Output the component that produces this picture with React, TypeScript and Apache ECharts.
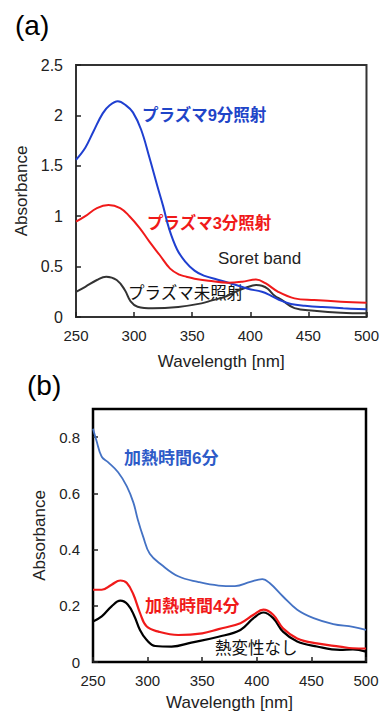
import React, { useEffect, useRef } from "react";
import * as echarts from "echarts";

// Panel (a)
const a9Wl = [250, 258, 265, 273, 279, 286, 293, 299, 306, 313, 320, 325, 330, 337, 344, 352, 360, 372, 387, 398, 410, 418, 427, 435, 447, 462, 480, 500];
const a9Abs = [1.56, 1.68, 1.84, 2.02, 2.1, 2.14, 2.1, 2.03, 1.86, 1.59, 1.3, 1.1, 0.88, 0.67, 0.55, 0.46, 0.41, 0.37, 0.32, 0.28, 0.25, 0.21, 0.16, 0.13, 0.112, 0.098, 0.086, 0.076];
const a3Wl = [250, 258, 268, 278, 288, 296, 305, 313, 322, 331, 339, 345, 352, 364, 381, 393, 405, 413, 424, 438, 455, 478, 500];
const a3Abs = [0.945, 1.0, 1.08, 1.11, 1.08, 1.0, 0.88, 0.75, 0.615, 0.48, 0.42, 0.4, 0.38, 0.36, 0.34, 0.35, 0.372, 0.335, 0.25, 0.185, 0.168, 0.152, 0.142];
const a0Wl = [250, 258, 268, 276, 285, 292, 297, 303, 316, 338, 358, 367, 378, 387, 396, 405, 410, 415, 421, 427, 438, 455, 478, 500];
const a0Abs = [0.25, 0.3, 0.367, 0.4, 0.367, 0.268, 0.155, 0.102, 0.086, 0.1, 0.135, 0.165, 0.2, 0.25, 0.29, 0.317, 0.31, 0.28, 0.21, 0.17, 0.088, 0.063, 0.043, 0.037];

// Panel (b)
const b6Wl = [250, 253, 258, 264, 273, 281, 287, 291, 296, 302, 313, 328, 346, 365, 380, 394, 405, 412, 424, 437, 452, 470, 488, 500];
const b6Abs = [0.83, 0.79, 0.73, 0.71, 0.675, 0.625, 0.567, 0.507, 0.445, 0.385, 0.345, 0.305, 0.285, 0.272, 0.27, 0.285, 0.295, 0.28, 0.233, 0.186, 0.156, 0.135, 0.125, 0.114];
const b4Wl = [250, 258, 267, 275, 281, 287, 293, 299, 310, 328, 350, 365, 385, 397, 406, 415, 424, 437, 455, 476, 488, 500];
const b4Abs = [0.257, 0.257, 0.275, 0.29, 0.281, 0.24, 0.175, 0.127, 0.108, 0.096, 0.102, 0.117, 0.138, 0.168, 0.186, 0.168, 0.12, 0.084, 0.066, 0.055, 0.049, 0.048];
const b0Wl = [250, 258, 267, 275, 282, 288, 293, 299, 307, 322, 340, 365, 385, 397, 406, 415, 424, 437, 455, 476, 488, 500];
const b0Abs = [0.144, 0.162, 0.198, 0.218, 0.204, 0.162, 0.114, 0.079, 0.057, 0.055, 0.069, 0.09, 0.114, 0.156, 0.176, 0.156, 0.108, 0.073, 0.055, 0.043, 0.045, 0.037];

const xTicksA = [250, 300, 350, 400, 450, 500];

const zip = (xs: number[], ys: number[]) => xs.map((x, i) => [x, ys[i]]);

const LATIN = '"Liberation Sans", Arial, sans-serif';
const MIXED = '"Liberation Sans", "Noto Sans CJK JP", sans-serif';

export default function App() {
  const ref = useRef<HTMLDivElement>(null);
  useEffect(() => {
    if (!ref.current) return;
    const chart = echarts.init(ref.current, undefined, { renderer: "svg" });
    const axisLabel = { color: "#222", fontSize: 15, fontFamily: LATIN, margin: 11 };
    const xAxisBase = (gridIndex: number, gap: number) => ({
      type: "value" as const,
      gridIndex,
      min: xTicksA[0],
      max: xTicksA[xTicksA.length - 1],
      interval: 50,
      axisLine: { show: false },
      axisTick: { show: true, inside: true, length: 5, lineStyle: { color: "#222", width: 1.5 } },
      splitLine: { show: false },
      axisLabel,
      name: "Wavelength [nm]",
      nameLocation: "middle" as const,
      nameGap: gap,
      nameTextStyle: { color: "#222", fontSize: 17, fontFamily: LATIN },
    });
    const yAxisBase = (gridIndex: number, max: number, interval: number, gap: number, fs: number) => ({
      type: "value" as const,
      gridIndex,
      min: 0,
      max,
      interval,
      axisLine: { show: false },
      axisTick: { show: true, inside: true, length: 5, lineStyle: { color: "#222", width: 1.5 } },
      splitLine: { show: false },
      axisLabel: { ...axisLabel, fontSize: fs, margin: 13, showMaxLabel: gridIndex === 0 },
      name: "Absorbance",
      nameLocation: "middle" as const,
      nameGap: gap,
      nameTextStyle: { color: "#222", fontSize: 17, fontFamily: LATIN },
    });
    const line = (xi: number, data: number[][], color: string, width: number) => ({
      type: "line" as const,
      xAxisIndex: xi,
      yAxisIndex: xi,
      data,
      smooth: 0.4,
      showSymbol: false,
      symbol: "none",
      lineStyle: { color, width },
      silent: true,
    });
    const label = (text: string, x: number, y: number, color: string, size: number, bold: boolean) => ({
      type: "text" as const,
      x,
      y,
      style: {
        text,
        fill: color,
        font: `${bold ? "bold " : ""}${size}px ${MIXED}`,
        align: "left",
        verticalAlign: "middle",
      },
    });
    chart.setOption({
      animation: false,
      backgroundColor: "#fff",
      grid: [
        { left: 76, top: 65, width: 293, height: 252, show: true, borderColor: "#333", borderWidth: 2, backgroundColor: "transparent" },
        { left: 93, top: 409, width: 273, height: 253, show: true, borderColor: "#000", borderWidth: 2.5, backgroundColor: "transparent" },
      ],
      xAxis: [xAxisBase(0, 36), xAxisBase(1, 32)],
      yAxis: [yAxisBase(0, 2.5, 0.5, 41, 16), yAxisBase(1, 0.9, 0.2, 44, 15)],
      series: [
        line(0, zip(a0Wl, a0Abs), "#333", 2),
        line(0, zip(a9Wl, a9Abs), "#1f3fd0", 2),
        line(0, zip(a3Wl, a3Abs), "#f01a1a", 2),
        line(1, zip(b6Wl, b6Abs), "#4472c4", 1.8),
        line(1, zip(b0Wl, b0Abs), "#000", 2.2),
        line(1, zip(b4Wl, b4Abs), "#f01a1a", 2.2),
      ],
      graphic: [
        { type: "text", x: 15, y: 25, style: { text: "(a)", fill: "#000", font: `28px ${LATIN}`, align: "left", verticalAlign: "middle" } },
        { type: "text", x: 27, y: 385, style: { text: "(b)", fill: "#000", font: `28px ${LATIN}`, align: "left", verticalAlign: "middle" } },
        label("プラズマ9分照射", 142, 115, "#1f45c8", 16.5, true),
        label("プラズマ3分照射", 147, 223, "#f01a1a", 16.5, true),
        label("Soret band", 218, 258, "#222", 17, false),
        label("プラズマ未照射", 128, 293, "#111", 16.5, false),
        label("加熱時間6分", 124, 458, "#2e5bc8", 17, true),
        label("加熱時間4分", 145, 606, "#f01a1a", 17, true),
        label("熱変性なし", 215, 648, "#111", 16.5, false),
      ],
    });
    return () => chart.dispose();
  }, []);
  return <div ref={ref} style={{ position: "fixed", left: 0, top: 0, width: 382, height: 713 }} />;
}
